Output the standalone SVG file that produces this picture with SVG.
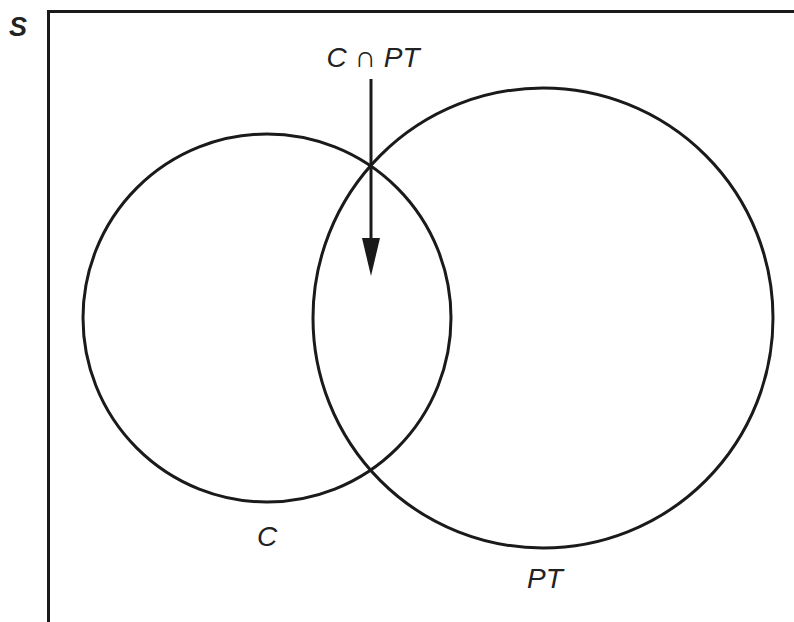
<svg xmlns="http://www.w3.org/2000/svg" width="794" height="622" viewBox="0 0 794 622">
<style>
.ln{fill:none;stroke:#1a1a1a;stroke-width:3}
.t{font-family:"Liberation Sans",Arial,sans-serif;font-size:28px;font-style:italic;fill:#222}
</style>
<rect width="794" height="622" fill="#fff"/>
<g id="frame">
<path class="ln" d="M48.5,622 V11.5 H794"/>
<text x="9" y="36" style="font-family:'Liberation Sans',Arial,sans-serif;font-size:27px;font-weight:bold;font-style:italic;fill:#222">S</text>
</g>
<g id="C">
<circle class="ln" cx="267" cy="318" r="184"/>
<text class="t" x="267" y="546" text-anchor="middle">C</text>
</g>
<g id="PT">
<circle class="ln" cx="543" cy="318" r="230"/>
<text class="t" x="545" y="588" text-anchor="middle">PT</text>
</g>
<g id="label">
<text class="t" x="373" y="67" text-anchor="middle">C <tspan font-style="normal" font-size="30">∩</tspan> PT</text>
</g>
<g id="connectors">
<line class="ln" x1="371" y1="79" x2="371" y2="240" stroke-width="2.5"/>
<path d="M362,238 L380,238 L371,276 Z" fill="#1a1a1a"/>
</g>
</svg>
